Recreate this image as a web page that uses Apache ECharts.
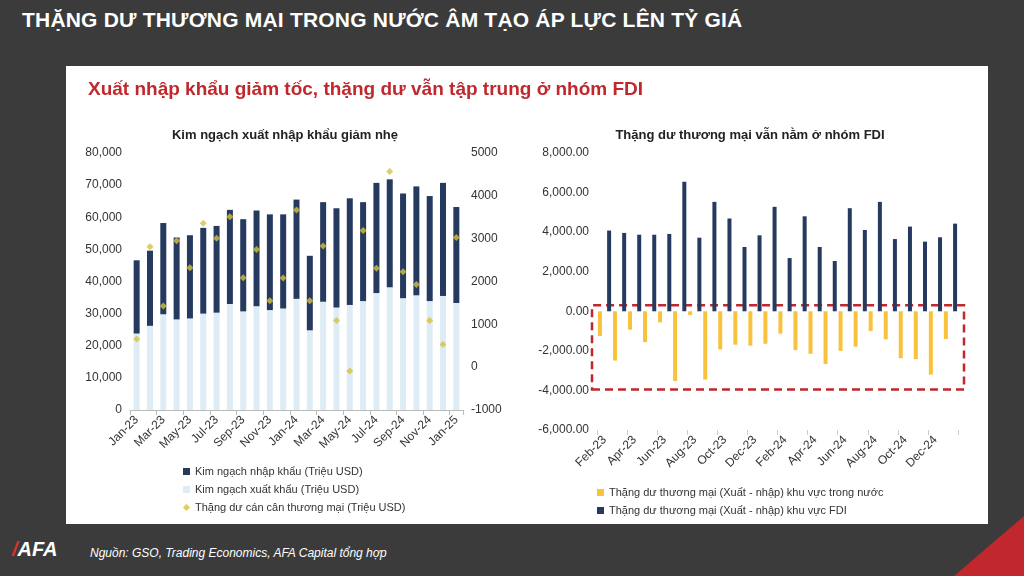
<!DOCTYPE html>
<html>
<head>
<meta charset="utf-8">
<script src="https://cdn.jsdelivr.net/npm/echarts@6/dist/echarts.min.js"></script>
<style>
body{margin:0;width:1024px;height:576px;background:#3b3b3b;overflow:hidden;font-family:"Liberation Sans",Arial,sans-serif;position:relative}
#title{position:absolute;left:22px;top:8px;color:#fff;font-weight:bold;font-size:21px;letter-spacing:0.2px}
#panel{position:absolute;left:66px;top:66px;width:922px;height:458px;background:#fff}
#sub{position:absolute;left:22px;top:12px;color:#c0282d;font-weight:bold;font-size:19px}
#chart{position:absolute;left:0;top:0;width:922px;height:458px}
#src{position:absolute;left:90px;top:546px;color:#fff;font-style:italic;font-size:12px}
#logo{position:absolute;left:12px;top:538px;color:#fff;font-weight:bold;font-style:italic;font-size:20px}
#logo span{color:#d9332c}
#corner{position:absolute;right:0;bottom:0;width:0;height:0;border-left:70px solid transparent;border-bottom:60px solid #c0282d}
</style>
</head>
<body>
<div id="title">THẶNG DƯ THƯƠNG MẠI TRONG NƯỚC ÂM TẠO ÁP LỰC LÊN TỶ GIÁ</div>
<div id="panel">
  <div id="chart"></div>
  <div id="sub">Xuất nhập khẩu giảm tốc, thặng dư vẫn tập trung ở nhóm FDI</div>
</div>
<div id="logo"><span>/</span>AFA</div>
<div id="src">Nguồn: GSO, Trading Economics, AFA Capital tổng hợp</div>
<div id="corner"></div>
<script>
var months1 = ['Jan-23','Feb-23','Mar-23','Apr-23','May-23','Jun-23','Jul-23','Aug-23','Sep-23','Oct-23','Nov-23','Dec-23',
  'Jan-24','Feb-24','Mar-24','Apr-24','May-24','Jun-24','Jul-24','Aug-24','Sep-24','Oct-24','Nov-24','Dec-24','Jan-25'];
var exportVal = [23800,26200,29800,28200,28500,30000,30300,33000,30700,32300,31100,31600,34600,24800,33700,31900,32700,33900,36400,38200,34800,35700,33900,35500,33300];
var totalVal = [46600,49600,58200,53700,54400,56700,57300,62300,59400,62100,60900,60900,65500,48000,64700,62800,65900,64700,70700,71800,67400,69600,66600,70700,63200];
var balance = [660,2810,1430,2950,2320,3360,3010,3510,2090,2750,1550,2080,3670,1550,2830,1090,-90,3190,2310,4570,2230,1930,1090,530,3030];
var importVal = totalVal.map(function(t,i){return t-exportVal[i];});

var months2 = ['Feb-23','Mar-23','Apr-23','May-23','Jun-23','Jul-23','Aug-23','Sep-23','Oct-23','Nov-23','Dec-23','Jan-24',
  'Feb-24','Mar-24','Apr-24','May-24','Jun-24','Jul-24','Aug-24','Sep-24','Oct-24','Nov-24','Dec-24','Jan-25'];
var domestic = [-1250,-2490,-930,-1560,-560,-3520,-190,-3450,-1930,-1690,-1740,-1640,-1130,-1960,-2150,-2660,-2000,-1790,-1000,-1420,-2370,-2420,-3200,-1400];
var fdi = [4080,3960,3870,3870,3910,6550,3720,5530,4690,3250,3840,5280,2690,4800,3250,2540,5210,4110,5530,3650,4280,3520,3740,4430];

var lbl = {color:'#333',fontSize:12,fontFamily:'Liberation Sans'};
var chart = echarts.init(document.getElementById('chart'));
chart.setOption({
  animation:false,
  title:[
    {text:'Kim ngạch xuất nhập khẩu giảm nhẹ',left:214,top:58,textAlign:'center',textStyle:{fontSize:13,fontWeight:'bold',color:'#222'}},
    {text:'Thặng dư thương mại vẫn nằm ở nhóm FDI',left:679,top:58,textAlign:'center',textStyle:{fontSize:13,fontWeight:'bold',color:'#222'}}
  ],
  legend:[
    {orient:'vertical',left:112,top:395,itemWidth:7,itemHeight:7,itemGap:7,textStyle:{fontSize:11,color:'#333'},
     data:[{name:'Kim ngạch nhập khẩu (Triệu USD)',icon:'rect'},{name:'Kim ngạch xuất khẩu (Triệu USD)',icon:'rect'},{name:'Thặng dư cán cân thương mại (Triệu USD)',icon:'diamond'}]},
    {orient:'vertical',left:526,top:416,itemWidth:7,itemHeight:7,itemGap:7,textStyle:{fontSize:11,color:'#333'},
     data:[{name:'Thặng dư thương mại (Xuất - nhập) khu vực trong nước',icon:'rect'},{name:'Thặng dư thương mại (Xuất - nhập) khu vực FDI',icon:'rect'}]}
  ],
  grid:[
    {left:64,top:87,width:333,height:257},
    {left:531,top:87,width:361,height:277}
  ],
  xAxis:[
    {gridIndex:0,type:'category',data:months1,axisTick:{show:true,lineStyle:{color:'#bbb'}},axisLine:{lineStyle:{color:'#bbb'}},
     axisLabel:Object.assign({rotate:45,interval:1},lbl)},
    {gridIndex:1,type:'category',data:months2,axisTick:{show:true,lineStyle:{color:'#ccc'}},axisLine:{onZero:false,show:false},
     axisLabel:Object.assign({rotate:45,interval:1},lbl)}
  ],
  yAxis:[
    {gridIndex:0,type:'value',min:0,max:80000,interval:10000,splitLine:{show:false},
     axisLabel:Object.assign({formatter:function(v){return v.toLocaleString('en-US');}},lbl)},
    {gridIndex:0,type:'value',min:-1000,max:5000,interval:1000,splitLine:{show:false},
     axisLabel:Object.assign({formatter:function(v){return String(v);}},lbl)},
    {gridIndex:1,type:'value',min:-6000,max:8000,interval:2000,splitLine:{show:false},
     axisLabel:Object.assign({formatter:function(v){return v.toLocaleString('en-US',{minimumFractionDigits:2,maximumFractionDigits:2});}},lbl)}
  ],
  series:[
    {name:'Kim ngạch xuất khẩu (Triệu USD)',type:'bar',stack:'t',xAxisIndex:0,yAxisIndex:0,data:exportVal,barWidth:6,itemStyle:{color:'#deedf5'}},
    {name:'Kim ngạch nhập khẩu (Triệu USD)',type:'bar',stack:'t',xAxisIndex:0,yAxisIndex:0,data:importVal,barWidth:6,itemStyle:{color:'#253a5e'}},
    {name:'Thặng dư cán cân thương mại (Triệu USD)',type:'scatter',xAxisIndex:0,yAxisIndex:1,data:balance,symbol:'diamond',symbolSize:7,itemStyle:{color:'#d6c23c'}},
    {name:'Thặng dư thương mại (Xuất - nhập) khu vực trong nước',type:'bar',xAxisIndex:1,yAxisIndex:2,data:domestic,barWidth:4,barGap:'130%',itemStyle:{color:'#f9c23c'},
     markArea:{silent:true,itemStyle:{color:'rgba(0,0,0,0)',borderColor:'#c0282d',borderWidth:2.5,borderType:[8,5]},data:[[{yAxis:300,x:526},{yAxis:-3950,x:898}]]}},
    {name:'Thặng dư thương mại (Xuất - nhập) khu vực FDI',type:'bar',xAxisIndex:1,yAxisIndex:2,data:fdi,barWidth:4,barGap:'130%',itemStyle:{color:'#253a5e'}}
  ]
});
</script>
</body>
</html>
